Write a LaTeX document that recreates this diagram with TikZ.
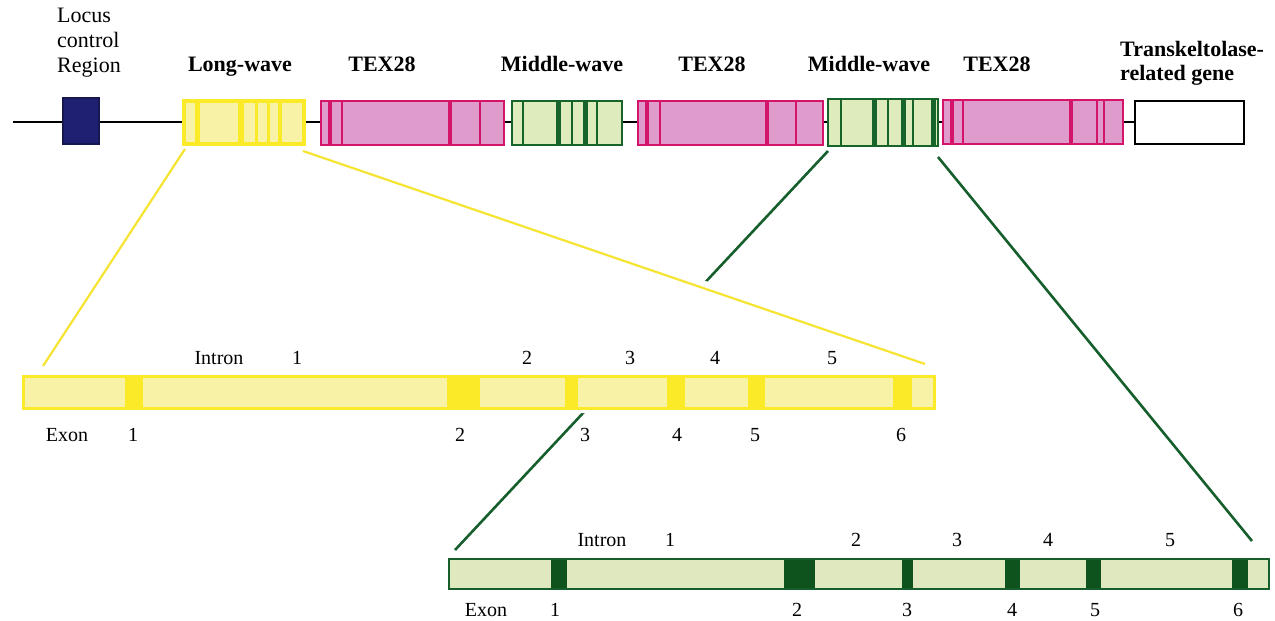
\documentclass[tikz,border=0pt]{standalone}
\usepackage{fontspec}
\setmainfont{Liberation Serif}
\definecolor{navy}{RGB}{32,32,115}
\definecolor{ybright}{RGB}{250,234,40}
\definecolor{ylight}{RGB}{247,242,165}
\definecolor{mag}{RGB}{212,20,105}
\definecolor{pinkfill}{RGB}{224,155,205}
\definecolor{dgreen}{RGB}{22,100,42}
\definecolor{lgreen}{RGB}{222,235,188}
\definecolor{bargreen}{RGB}{224,232,192}
\definecolor{exgreen}{RGB}{14,82,30}
\definecolor{lineyel}{RGB}{245,228,50}
\definecolor{linegreen}{RGB}{22,95,45}
\pgfdeclarelayer{bg}
\pgfsetlayers{bg,main}
\begin{document}
\begin{tikzpicture}[x=1pt,y=-1pt,
  genebox/.style={draw, line width=2pt, inner sep=0pt, outer sep=0pt, anchor=north west, minimum height=44pt},
  lwbox/.style={genebox, draw=ybright, fill=ylight, line width=3.5pt},
  texbox/.style={genebox, draw=mag, fill=pinkfill},
  mwbox/.style={genebox, draw=dgreen, fill=lgreen},
  ystripe/.style={draw=ybright, line width=3pt},
  mstripe/.style={draw=mag, line width=2pt},
  mthick/.style={draw=mag, line width=4.5pt},
  gstripe/.style={draw=dgreen, line width=2.5pt},
  gthick/.style={draw=dgreen, line width=5pt},
  toplabel/.style={font=\fontsize{22}{25}\selectfont\bfseries, anchor=base, inner sep=0pt},
  smalllabel/.style={font=\fontsize{20}{22}\selectfont, anchor=base, inner sep=0pt},
  yconn/.style={draw=lineyel, line width=2.2pt},
  gconn/.style={draw=linegreen, line width=2.6pt},
  yexon/.style={fill=ybright},
  gexon/.style={fill=exgreen}
]
\useasboundingbox (0,0) rectangle (1275,621);

% ---- chromosome line ----
\coordinate (lstart) at (13,122);
\coordinate (lend) at (1134,122);
\draw[line width=2pt] (lstart) -- (lend);

% ---- top gene boxes ----
\node[genebox, draw=navy!70!black, fill=navy, minimum width=36pt, minimum height=46pt] (lcr) at (63,98) {};
\node[lwbox, minimum width=120pt, minimum height=43pt] (lw) at (184,101) {};
\draw[ystripe, line width=5pt] (197,101) -- (197,144);
\draw[ystripe, line width=6pt] (241,101) -- (241,144);
\draw[ystripe] (256,101) -- (256,144);
\draw[ystripe] (268,101) -- (268,144);
\draw[ystripe, line width=4pt] (280,101) -- (280,144);

\node[texbox, minimum width=183pt] (tex1) at (321,101) {};
\draw[mthick] (330,101) -- (330,145);
\draw[mstripe] (342,101) -- (342,145);
\draw[mthick] (450,101) -- (450,145);
\draw[mstripe] (480,101) -- (480,145);

\node[mwbox, minimum width=110pt] (mw1) at (512,101) {};
\draw[gstripe] (523,101) -- (523,145);
\draw[gthick] (558,101) -- (558,145);
\draw[gstripe] (572,101) -- (572,145);
\draw[gthick] (585,101) -- (585,145);
\draw[gstripe] (597,101) -- (597,145);

\node[texbox, minimum width=185pt] (tex2) at (638,101) {};
\draw[mthick] (647,101) -- (647,145);
\draw[mstripe] (660,101) -- (660,145);
\draw[mthick] (767,101) -- (767,145);
\draw[mstripe] (796,101) -- (796,145);

\node[mwbox, line width=2.8pt, minimum width=110pt, minimum height=47pt] (mw2) at (828,99) {};
\draw[gstripe] (841,99) -- (841,146);
\draw[gthick] (874,99) -- (874,146);
\draw[gstripe] (888,99) -- (888,146);
\draw[gthick] (903,99) -- (903,146);
\draw[gstripe] (913,99) -- (913,146);
\draw[gthick] (933,99) -- (933,146);

\node[texbox, minimum width=180pt] (tex3) at (943,100) {};
\draw[mthick] (952,100) -- (952,144);
\draw[mstripe] (963,100) -- (963,144);
\draw[mthick] (1071,100) -- (1071,144);
\draw[mstripe] (1097,100) -- (1097,144);
\draw[mstripe] (1104,100) -- (1104,144);

\node[genebox, draw=black, fill=white, minimum width=109pt, minimum height=43pt] (tkt) at (1135,101) {};

% ---- top labels ----
\node[font=\fontsize{22}{25}\selectfont, align=left, anchor=north west, inner sep=0pt] (lcrlab) at (57,8) {Locus\\control\\Region};
\node[toplabel] (lwlab) at (240,71) {Long-wave};
\node[toplabel] (tex1lab) at (382,71) {TEX28};
\node[toplabel] (mw1lab) at (562,71) {Middle-wave};
\node[toplabel] (tex2lab) at (712,71) {TEX28};
\node[toplabel] (mw2lab) at (869,71) {Middle-wave};
\node[toplabel] (tex3lab) at (997,71) {TEX28};
\node[font=\fontsize{22}{24}\selectfont\bfseries, align=left, anchor=north west, inner sep=0pt] (tktlab) at (1120,41) {Transkeltolase-\\related gene};

% ---- expanded yellow bar ----
\node[draw=ybright, line width=3pt, fill=ylight, inner sep=0pt, outer sep=0pt, anchor=north west, minimum width=911pt, minimum height=32pt] (ybar) at (23,376) {};
\fill[yexon] (125,375) rectangle (143,407);
\fill[yexon] (447,375) rectangle (480,407);
\fill[yexon] (565,375) rectangle (578,407);
\fill[yexon] (667,375) rectangle (685,407);
\fill[yexon] (748,375) rectangle (765,407);
\fill[yexon] (893,375) rectangle (912,407);
\coordinate (y1end) at (43,366);
\coordinate (y2end) at (925,364);
\draw[yconn] (lw.south west) ++(1,5) -- (y1end);
\draw[yconn] (lw.south east) ++(-1,7) -- (y2end);

% ---- expanded green bar ----
\node[draw=linegreen, line width=2.5pt, fill=bargreen, inner sep=0pt, outer sep=0pt, anchor=north west, minimum width=820pt, minimum height=30pt] (gbar) at (449,559) {};
\fill[gexon] (551,558) rectangle (567,588);
\fill[gexon] (784,558) rectangle (815,588);
\fill[gexon] (902,558) rectangle (913,588);
\fill[gexon] (1005,558) rectangle (1020,588);
\fill[gexon] (1086,558) rectangle (1101,588);
\fill[gexon] (1232,558) rectangle (1248,588);
\draw[draw=linegreen, line width=2.5pt] (gbar.north west) rectangle (gbar.south east);

% ---- green connectors; the first one passes behind the yellow fan ----
\coordinate (g1end) at (455,550);
\coordinate (g2end) at (1252,541);
\draw[gconn] (mw2.south east) ++(0,11) -- (g2end);
\begin{pgfonlayer}{bg}
  \draw[gconn] (mw2.south west) ++(0,5) -- (g1end);
  \fill[white, draw=white, line width=10pt, line join=round]
    (lw.south west) -- (lw.south east) -- (y2end) -- (ybar.south east) -- (ybar.south west) -- (y1end) -- cycle;
\end{pgfonlayer}

% ---- yellow bar labels ----
\node[smalllabel] (yi) at (219,364) {Intron};
\node[smalllabel] (yi1) at (297,364) {1};
\node[smalllabel] (yi2) at (527,364) {2};
\node[smalllabel] (yi3) at (630,364) {3};
\node[smalllabel] (yi4) at (715,364) {4};
\node[smalllabel] (yi5) at (832,364) {5};
\node[smalllabel] (ye) at (67,441) {Exon};
\node[smalllabel] (ye1) at (133,441) {1};
\node[smalllabel] (ye2) at (460,441) {2};
\node[smalllabel] (ye3) at (585,441) {3};
\node[smalllabel] (ye4) at (677,441) {4};
\node[smalllabel] (ye5) at (755,441) {5};
\node[smalllabel] (ye6) at (901,441) {6};

% ---- green bar labels ----
\node[smalllabel] (gi) at (602,546) {Intron};
\node[smalllabel] (gi1) at (670,546) {1};
\node[smalllabel] (gi2) at (856,546) {2};
\node[smalllabel] (gi3) at (957,546) {3};
\node[smalllabel] (gi4) at (1048,546) {4};
\node[smalllabel] (gi5) at (1170,546) {5};
\node[smalllabel] (ge) at (486,616) {Exon};
\node[smalllabel] (ge1) at (555,616) {1};
\node[smalllabel] (ge2) at (797,616) {2};
\node[smalllabel] (ge3) at (907,616) {3};
\node[smalllabel] (ge4) at (1012,616) {4};
\node[smalllabel] (ge5) at (1095,616) {5};
\node[smalllabel] (ge6) at (1238,616) {6};
\end{tikzpicture}
\end{document}
